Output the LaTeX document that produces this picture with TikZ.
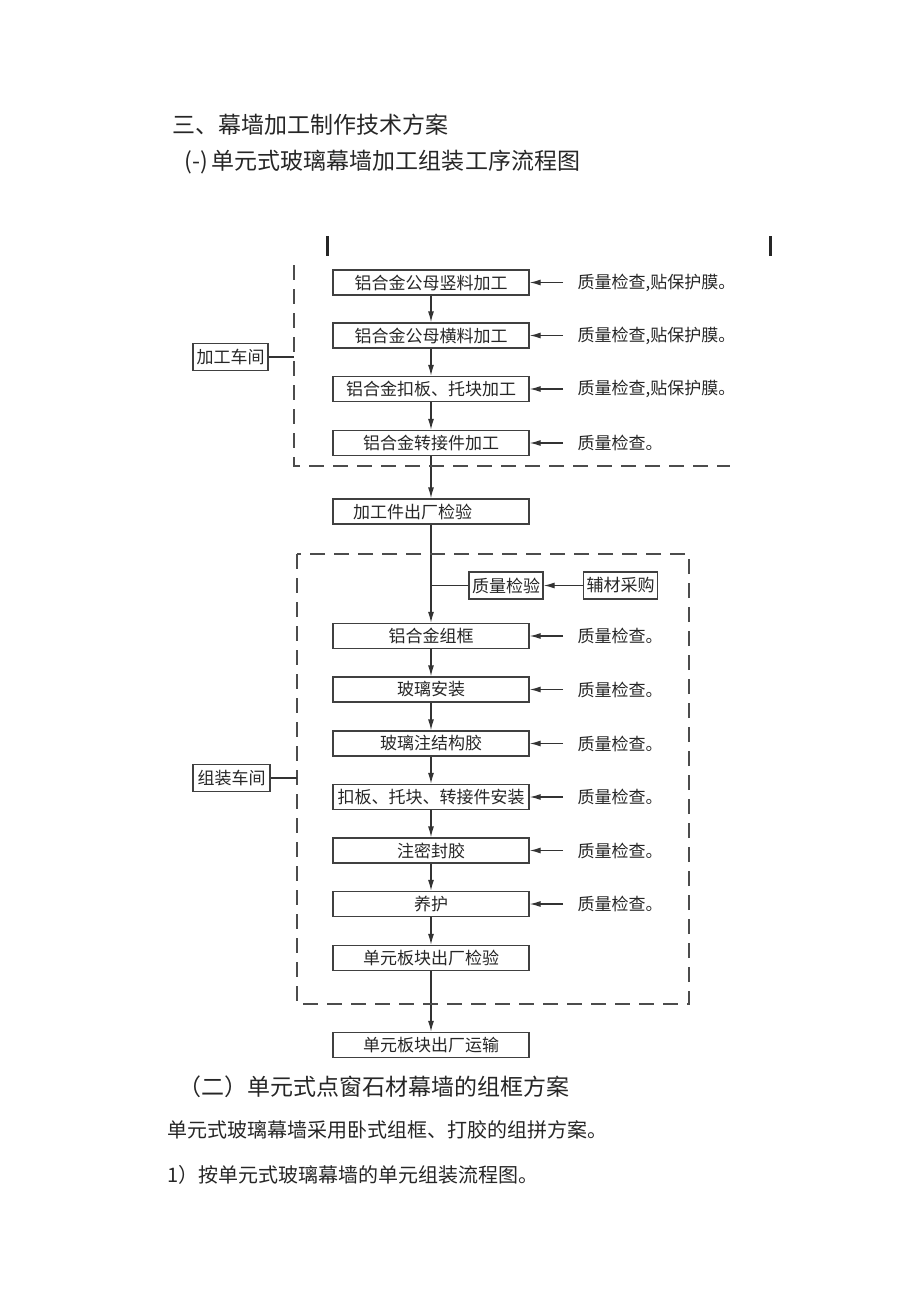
\documentclass[tikz,border=0pt]{standalone}
\usepackage{fontspec}
\newfontfamily\cjk{Noto Sans CJK SC}
\usetikzlibrary{arrows.meta}
\begin{document}
\begin{tikzpicture}[x=1pt,y=-1pt,
  line width=1.3pt,
  every node/.style={text=black!85},
  box/.style={draw=black!75, minimum width=196pt, minimum height=25pt, inner sep=0pt,
    font=\cjk\fontsize{17}{17}\selectfont},
  smallbox/.style={draw=black!75, minimum height=27pt, inner xsep=3pt, inner ysep=0pt,
    font=\cjk\fontsize{17}{17}\selectfont},
  note/.style={anchor=west, inner sep=0pt, font=\cjk\fontsize{17}{17}\selectfont},
  titletext/.style={anchor=west, inner sep=0pt, font=\cjk\fontsize{23}{23}\selectfont},
  bodytext/.style={anchor=west, inner sep=0pt, font=\cjk\fontsize{20}{20}\selectfont},
  flow/.style={draw=black!80, -{Latex[length=11pt,width=6pt]}},
  plain/.style={draw=black!80},
  zone/.style={draw=black!70, dash pattern=on 15pt off 9pt}
]
\useasboundingbox (0,0) rectangle (920,1301);

% titles
\node[titletext] (t1) at (172,125) {三、幕墙加工制作技术方案};
\node[titletext] (t2) at (184,162) {(-)\,单元式玻璃幕墙加工组装工序流程图};

% top marks
\draw[line width=3pt, black!85] (327,236) -- (327,256);
\draw[line width=3pt, black!85] (770,236) -- (770,256);

% main boxes
\node[box] (b1) at (431,282.5) {铝合金公母竖料加工};
\node[box] (b2) at (431,335.5) {铝合金公母横料加工};
\node[box] (b3) at (431,389) {铝合金扣板、托块加工};
\node[box] (b4) at (431,443) {铝合金转接件加工};
\node[box, text width=156pt, inner xsep=20pt, align=left] (b5) at (431,511.5) {加工件出厂检验};
\node[box] (b6) at (431,636) {铝合金组框};
\node[box] (b7) at (431,689.5) {玻璃安装};
\node[box] (b8) at (431,743.5) {玻璃注结构胶};
\node[box] (b9) at (431,797) {扣板、托块、转接件安装};
\node[box] (b10) at (431,850.5) {注密封胶};
\node[box] (b11) at (431,904) {养护};
\node[box] (b12) at (431,958) {单元板块出厂检验};
\node[box] (b13) at (431,1045) {单元板块出厂运输};

% right notes
\node[note] (q1) at (577,282.5) {质量检查,贴保护膜。};
\node[note] (q2) at (577,335.5) {质量检查,贴保护膜。};
\node[note] (q3) at (577,389) {质量检查,贴保护膜。};
\node[note] (q4) at (577,443) {质量检查。};
\node[note] (q6) at (577,636) {质量检查。};
\node[note] (q7) at (577,689.5) {质量检查。};
\node[note] (q8) at (577,743.5) {质量检查。};
\node[note] (q9) at (577,797) {质量检查。};
\node[note] (q10) at (577,850.5) {质量检查。};
\node[note] (q11) at (577,904) {质量检查。};

\foreach \i in {1,2,3,4,6,7,8,9,10,11}{
  \draw[flow] ([xshift=-14pt]q\i.west) -- (b\i.east);
}

% main flow
\draw[flow] (b1) -- (b2);
\draw[flow] (b2) -- (b3);
\draw[flow] (b3) -- (b4);
\draw[flow] (b4) -- (b5);
\draw[flow] (b5) -- (b6);
\draw[flow] (b6) -- (b7);
\draw[flow] (b7) -- (b8);
\draw[flow] (b8) -- (b9);
\draw[flow] (b9) -- (b10);
\draw[flow] (b10) -- (b11);
\draw[flow] (b11) -- (b12);
\draw[flow] (b12) -- (b13);

% workshop zones
\draw[zone] (294,265) -- (294,466) -- (730,466);
\draw[zone] (297,554) rectangle (689,1004);

\node[smallbox, minimum width=75pt] (w1) at (230.5,357) {加工车间};
\node[smallbox, minimum width=77pt] (w2) at (231.5,778) {组装车间};
\coordinate (z1) at (294,357);
\coordinate (z2) at (297,778);
\draw[plain] (w1.east) -- (z1);
\draw[plain] (w2.east) -- (z2);

% auxiliary material
\node[smallbox, minimum width=74pt] (zj) at (506,585.5) {质量检验};
\node[smallbox, minimum width=73pt] (fc) at (620.5,585.5) {辅材采购};
\draw[flow] (fc.west) -- (zj.east);
\draw[plain] (zj.west) -- (zj.west -| b5.south);

% bottom text
\node[titletext] (t3) at (178,1087) {（二）单元式点窗石材幕墙的组框方案};
\node[bodytext] (t4) at (167,1130) {单元式玻璃幕墙采用卧式组框、打胶的组拼方案。};
\node[bodytext] (t5) at (167,1175) {1）按单元式玻璃幕墙的单元组装流程图。};
\end{tikzpicture}
\end{document}
